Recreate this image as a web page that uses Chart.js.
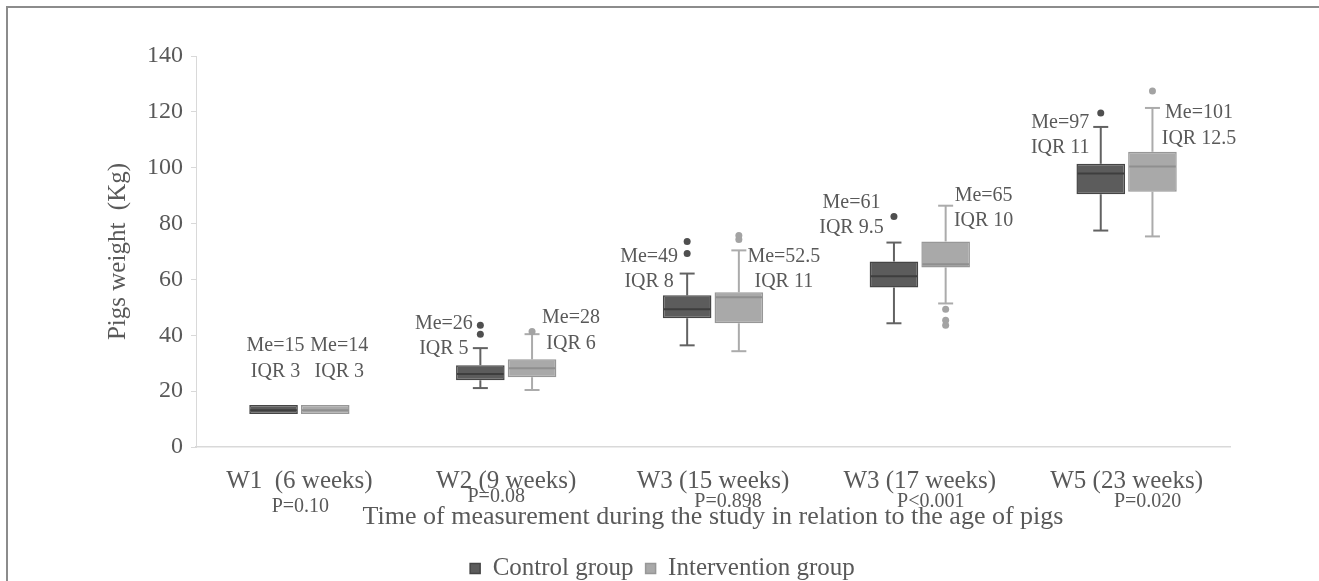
<!DOCTYPE html>
<html>
<head>
<meta charset="utf-8">
<script src="https://cdn.jsdelivr.net/npm/chart.js@4.4.1/dist/chart.umd.min.js"></script>
<style>
  html, body { margin: 0; padding: 0; background: #fff; overflow: hidden; }
  #frame { position: absolute; left: 6px; top: 6px; width: 1400px; height: 700px;
           border-top: 2px solid #8c8c8c; border-left: 2px solid #8c8c8c; }
  #wrap { position: absolute; left: 0; top: 0; width: 1319px; height: 600px; }
</style>
</head>
<body>
<div id="frame"></div>
<div id="wrap"><canvas id="grafico"></canvas></div>
<script>
// data
const categories = ['W1  (6 weeks)', 'W2 (9 weeks)', 'W3 (15 weeks)', 'W3 (17 weeks)', 'W5 (23 weeks)'];
const pValues = ['P=0.10', 'P=0.08', 'P=0.898', 'P<0.001', 'P=0.020'];
const yTicks = [0, 20, 40, 60, 80, 100, 120, 140];

const controlMin = [11.8, 21.1, 36.4, 44.3, 77.5];
const controlQ1 = [11.8, 23.9, 46.1, 57.1, 90.5];
const controlMedian = [13.2, 26.1, 49.3, 61.1, 97.9];
const controlQ3 = [15, 29.3, 54.3, 66.4, 101.4];
const controlMax = [15, 35.4, 62.1, 73.2, 114.6];
const controlOutliers = [[], [40.4, 43.6], [69.3, 73.6], [82.5], [119.6]];
const controlNotes = [['Me=15', 'IQR 3'], ['Me=26', 'IQR 5'], ['Me=49', 'IQR 8'], ['Me=61', 'IQR 9.5'], ['Me=97', 'IQR 11']];

const interventionMin = [11.8, 20.4, 34.3, 51.4, 75.4];
const interventionQ1 = [11.8, 25, 44.3, 64.3, 91.4];
const interventionMedian = [13.2, 28.2, 53.6, 65.4, 100.4];
const interventionQ3 = [15, 31.4, 55.4, 73.6, 105.7];
const interventionMax = [15, 40.4, 70.4, 86.4, 121.4];
const interventionOutliers = [[], [41.4], [74.3, 75.7], [43.6, 45.4, 49.3], [127.5]];
const interventionNotes = [['Me=14', 'IQR 3'], ['Me=28', 'IQR 6'], ['Me=52.5', 'IQR 11'], ['Me=65', 'IQR 10'], ['Me=101', 'IQR 12.5']];

// placement of the text annotations
const notePlace = {
  control: { dx: [2, -36.5, -38, -42.5, -40.5], y: [36.1, 44.3, 68.2, 87.5, 116.1] },
  intervention: { dx: [14, 39, 45, 38, 46.5], y: [36.1, 46.1, 68.2, 90, 119.6] },
  gap: 25.5
};
const pPlace = { dx: [1, -10, 15, 11, 21], dy: [60, 50, 55, 55, 55] };

const FONT = "'Liberation Serif', 'Times New Roman', serif";
const TXT = '#595959';

const groups = [
  { min: controlMin, q1: controlQ1, med: controlMedian, q3: controlQ3, max: controlMax,
    out: controlOutliers, notes: controlNotes, place: notePlace.control,
    whisker: '#626262', median: '#3e3e3e', dot: '#4f4f4f' },
  { min: interventionMin, q1: interventionQ1, med: interventionMedian, q3: interventionQ3, max: interventionMax,
    out: interventionOutliers, notes: interventionNotes, place: notePlace.intervention,
    whisker: '#ababab', median: '#8f8f8f', dot: '#a3a3a3' }
];

const boxPlot = {
  id: 'boxPlot',
  beforeDatasetsDraw(chart) {
    const ctx = chart.ctx, y = chart.scales.y;
    groups.forEach((g, d) => {
      chart.getDatasetMeta(d).data.forEach((bar, i) => {
        ctx.save();
        ctx.strokeStyle = g.whisker;
        ctx.lineWidth = 2;
        const seg = (a, b) => {
          if (a === b) return;
          ctx.beginPath();
          ctx.moveTo(bar.x, y.getPixelForValue(a));
          ctx.lineTo(bar.x, y.getPixelForValue(b));
          ctx.stroke();
          const yy = y.getPixelForValue(b);
          ctx.beginPath();
          ctx.moveTo(bar.x - 7.5, yy);
          ctx.lineTo(bar.x + 7.5, yy);
          ctx.stroke();
        };
        seg(g.q3[i], g.max[i]);
        seg(g.q1[i], g.min[i]);
        ctx.restore();
      });
    });
  },
  afterDatasetsDraw(chart) {
    const ctx = chart.ctx, y = chart.scales.y, x = chart.scales.x;
    groups.forEach((g, d) => {
      chart.getDatasetMeta(d).data.forEach((bar, i) => {
        ctx.save();
        const half = bar.width / 2;
        const my = y.getPixelForValue(g.med[i]);
        ctx.strokeStyle = g.median;
        ctx.lineWidth = 2;
        ctx.beginPath();
        ctx.moveTo(bar.x - half + 1, my);
        ctx.lineTo(bar.x + half - 1, my);
        ctx.stroke();

        ctx.fillStyle = g.dot;
        g.out[i].forEach(v => {
          ctx.beginPath();
          ctx.arc(bar.x, y.getPixelForValue(v), 3.5, 0, Math.PI * 2);
          ctx.fill();
        });

        ctx.fillStyle = TXT;
        ctx.font = '20px ' + FONT;
        ctx.textAlign = 'center';
        ctx.textBaseline = 'middle';
        const tx = bar.x + g.place.dx[i];
        const ty = y.getPixelForValue(g.place.y[i]);
        ctx.fillText(g.notes[i][0], tx, ty);
        ctx.fillText(g.notes[i][1], tx, ty + notePlace.gap);
        ctx.restore();
      });
    });

    ctx.save();
    ctx.fillStyle = TXT;
    ctx.font = '20px ' + FONT;
    ctx.textAlign = 'center';
    ctx.textBaseline = 'middle';
    pValues.forEach((p, i) => {
      ctx.fillText(p, x.getPixelForValue(i) + pPlace.dx[i], x.top + pPlace.dy[i]);
    });
    ctx.restore();
  }
};

const ctx = document.getElementById('grafico').getContext('2d');
new Chart(ctx, {
  type: 'bar',
  data: {
    labels: categories,
    datasets: [{
      label: 'Control group',
      data: controlQ1.map((v, i) => [v, controlQ3[i]]),
      backgroundColor: '#5c5c5c',
      borderColor: '#454545',
      borderWidth: 1.5,
      borderSkipped: false
    }, {
      label: 'Intervention group',
      data: interventionQ1.map((v, i) => [v, interventionQ3[i]]),
      backgroundColor: '#a9a9a9',
      borderColor: '#979797',
      borderWidth: 1.5,
      borderSkipped: false
    }]
  },
  options: {
    responsive: true,
    maintainAspectRatio: false,
    animation: false,
    categoryPercentage: 0.5,
    barPercentage: 0.94,
    layout: { padding: { left: 95, right: 89, top: 56, bottom: 9 } },
    plugins: {
      tooltip: { enabled: false },
      legend: {
        position: 'bottom',
        labels: {
          color: TXT,
          font: { family: FONT, size: 25 },
          boxWidth: 10,
          boxHeight: 10,
          padding: 12
        }
      }
    },
    scales: {
      x: {
        afterFit: s => { s.height = 97; },
        grid: { display: false },
        border: { display: true, color: '#d9d9d9', width: 1.5 },
        ticks: { color: TXT, font: { family: FONT, size: 25 }, padding: 11, maxRotation: 0, autoSkip: false },
        title: {
          display: true,
          text: 'Time of measurement during the study in relation to the age of pigs',
          color: TXT,
          font: { family: FONT, size: 26 },
          padding: { top: 0, bottom: 11 }
        }
      },
      y: {
        min: 0,
        max: 140,
        afterFit: s => { s.width = 101; },
        afterBuildTicks: s => { s.ticks = yTicks.map(v => ({ value: v })); },
        grid: { display: true, drawOnChartArea: false, drawTicks: true, tickLength: 5, color: '#d9d9d9' },
        border: { display: true, color: '#d9d9d9' },
        ticks: { color: TXT, font: { family: FONT, size: 24 }, padding: 8 },
        title: {
          display: true,
          text: 'Pigs weight  (Kg)',
          color: TXT,
          font: { family: FONT, size: 25 },
          padding: { top: 8, bottom: 0 }
        }
      }
    }
  },
  plugins: [boxPlot]
});
</script>
</body>
</html>
